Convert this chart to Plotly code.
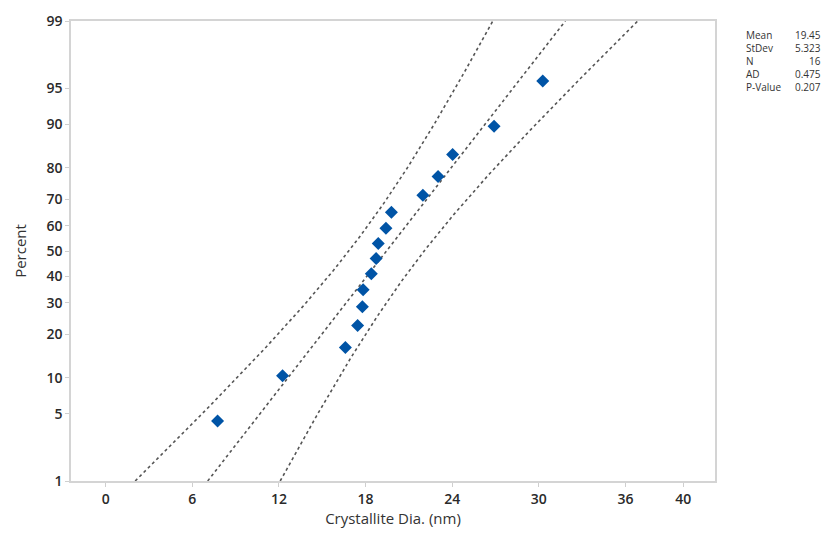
import plotly.graph_objects as go
import numpy as np
from statistics import NormalDist

# Data (crystallite diameters, nm)
diameters = [7.75, 12.25, 16.6, 17.45, 17.78, 17.83, 18.4, 18.73, 18.88,
             19.41, 19.79, 21.97, 23.02, 24.03, 26.9, 30.27]
pct_ticks = [1, 5, 10, 20, 30, 40, 50, 60, 70, 80, 90, 95, 99]
x_ticks = [0, 6, 12, 18, 24, 30, 36, 40]
stat_labels = ["Mean", "StDev", "N", "AD", "P-Value"]
stat_values = ["19.45", "5.323", "16", "0.475", "0.207"]
mean_val = 19.45
sd_val = 5.323

nd = NormalDist()
n = len(diameters)
xs = sorted(diameters)
ranks = [(i + 1 - 0.3) / (n + 0.4) for i in range(n)]
z_pts = [nd.inv_cdf(p) for p in ranks]

zlo, zhi = nd.inv_cdf(0.01), nd.inv_cdf(0.99)
zz = np.linspace(zlo, zhi, 200)
fit = mean_val + zz * sd_val
hw = 1.96 * sd_val * np.sqrt(1.0 / n + zz ** 2 / (2 * n))

line_style = dict(color="#555555", width=1.6, dash="dot")
fig = go.Figure()
fig.add_trace(go.Scatter(x=fit - hw, y=zz, mode="lines", line=line_style, hoverinfo="skip"))
fig.add_trace(go.Scatter(x=fit, y=zz, mode="lines", line=line_style, hoverinfo="skip"))
fig.add_trace(go.Scatter(x=fit + hw, y=zz, mode="lines", line=line_style, hoverinfo="skip"))
fig.add_trace(go.Scatter(x=xs, y=z_pts, mode="markers",
                         marker=dict(symbol="diamond", size=10, color="#0054A6")))

axis_common = dict(showline=True, linecolor="#d4d4d4", linewidth=1.5, mirror=True,
                   showgrid=False, zeroline=False, ticks="outside", ticklen=4,
                   tickcolor="#cfcfcf", tickwidth=1, automargin=False,
                   tickfont=dict(family="Open Sans", size=14, color="#2a2a2a", weight=600))

# page body has an 8px margin; figure is sized to fit the window
OFF = 8
W, H = 838 - OFF, 537 - OFF
L, R, T, B = 71 - OFF, 123, 21 - OFF, 56
fig.update_layout(
    width=W, height=H,
    margin=dict(l=L, r=R, t=T, b=B),
    paper_bgcolor="white", plot_bgcolor="white",
    showlegend=False,
    font=dict(family="Open Sans"),
    xaxis=dict(range=[-2.4, 42.2], tickvals=x_ticks,
               title=dict(text="Crystallite Dia. (nm)", standoff=6,
                          font=dict(family="Open Sans", size=15, color="#333")),
               **axis_common),
    yaxis=dict(range=[zlo, zhi], tickvals=[nd.inv_cdf(p / 100) for p in pct_ticks],
               ticktext=[str(p) for p in pct_ticks],
               title=dict(text="Percent", standoff=16,
                          font=dict(family="Open Sans", size=15, color="#333")),
               **axis_common),
)

pw, ph = W - L - R, H - T - B
for i, (lab, val) in enumerate(zip(stat_labels, stat_values)):
    ypix = 35 + 13 * i - OFF
    yp = (H - B - ypix) / ph
    fig.add_annotation(x=(745 - OFF - L) / pw, y=yp, xref="paper", yref="paper", text=lab,
                       showarrow=False, xanchor="left", yanchor="middle", borderpad=0,
                       font=dict(family="Open Sans", size=10, color="#333"))
    fig.add_annotation(x=(822 - OFF - L) / pw, y=yp, xref="paper", yref="paper", text=val,
                       showarrow=False, xanchor="right", yanchor="middle", borderpad=0,
                       font=dict(family="Open Sans", size=10, color="#333"))

fig.write_html("out.html")
